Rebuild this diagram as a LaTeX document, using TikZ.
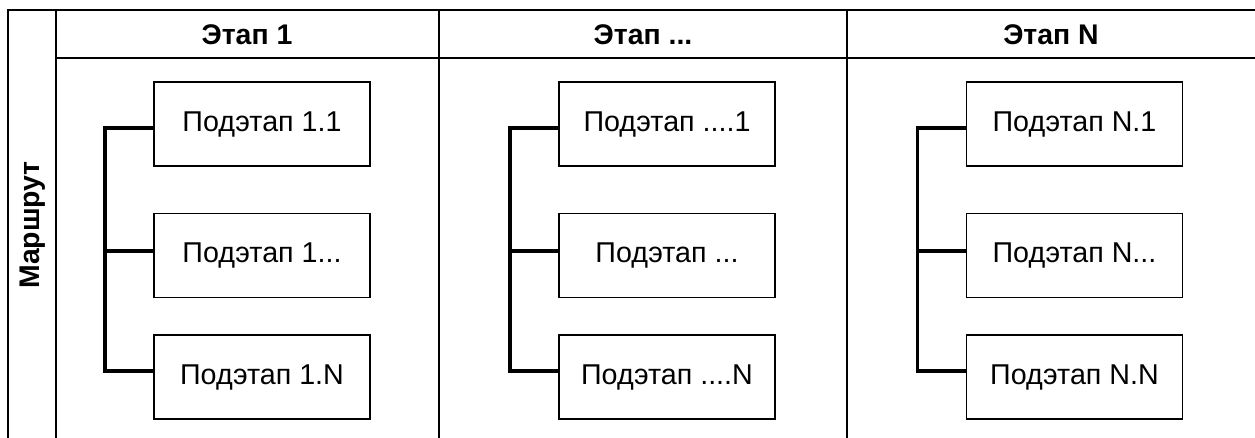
\documentclass[tikz,border=0pt]{standalone}
\usepackage{fontspec}
\setmainfont{Liberation Sans}
\usetikzlibrary{calc}

\begin{document}
\begin{tikzpicture}[
      x=0.75pt, y=-0.75pt,
      frame/.style={line width=1.7pt},
      lanehead/.style={font=\fontsize{21.3}{24}\selectfont\bfseries},
      substage/.style={draw, line width=1.3pt, minimum width=162pt, minimum height=63pt, font=\fontsize{21.5}{25}\selectfont},
      bracket/.style={line width=2.6pt}
    ]
    \useasboundingbox (0,0) rectangle (1255,438);

    % Рамка маршрута
    \draw[frame] (8,438) -- (8,10) -- (1255,10);
    \draw[frame] (56,10) -- (56,438);
    \draw[frame] (56,58) -- (1255,58);
    \draw[frame] (439,10) -- (439,438);
    \draw[frame] (847,10) -- (847,438);

    \node[lanehead, rotate=90] (route) at (33,225) {Маршрут};
    \node[lanehead] (h1) at (247,35) {Этап 1};
    \node[lanehead] (h2) at (643,35) {Этап ...};
    \node[lanehead] (hn) at (1051,35) {Этап N};

    % Этап 1
    \node[substage] (s11) at (262,124) {Подэтап 1.1};
    \node[substage] (s12) at (262,255.5) {Подэтап 1...};
    \node[substage] (s1n) at (262,377) {Подэтап 1.N};

    % Этап ...
    \node[substage] (s21) at (667,124) {Подэтап ....1};
    \node[substage] (s22) at (667,255.5) {Подэтап ...};
    \node[substage] (s2n) at (667,377) {Подэтап ....N};

    % Этап N
    \node[substage] (sn1) at (1074.5,124) {Подэтап N.1};
    \node[substage] (sn2) at (1074.5,255.5) {Подэтап N...};
    \node[substage] (snn) at (1074.5,377) {Подэтап N.N};

    \coordinate (k12) at ([xshift=-36pt,yshift=3.4pt]s12.west);
    \coordinate (k22) at ([xshift=-36pt,yshift=3.4pt]s22.west);
    \coordinate (kn2) at ([xshift=-36pt,yshift=3.4pt]sn2.west);

    \draw[bracket] ([yshift=-3pt]s11.west) -| ([xshift=-36pt,yshift=4.5pt]s1n.west) -- ([yshift=4.5pt]s1n.west);
    \draw[bracket] (k12) -- ([yshift=3.4pt]s12.west);
    \draw[bracket] ([yshift=-3pt]s21.west) -| ([xshift=-36pt,yshift=4.5pt]s2n.west) -- ([yshift=4.5pt]s2n.west);
    \draw[bracket] (k22) -- ([yshift=3.4pt]s22.west);
    \draw[bracket] ([yshift=-3pt]sn1.west) -| ([xshift=-36pt,yshift=4.5pt]snn.west) -- ([yshift=4.5pt]snn.west);
    \draw[bracket] (kn2) -- ([yshift=3.4pt]sn2.west);

  \end{tikzpicture}
\end{document}
